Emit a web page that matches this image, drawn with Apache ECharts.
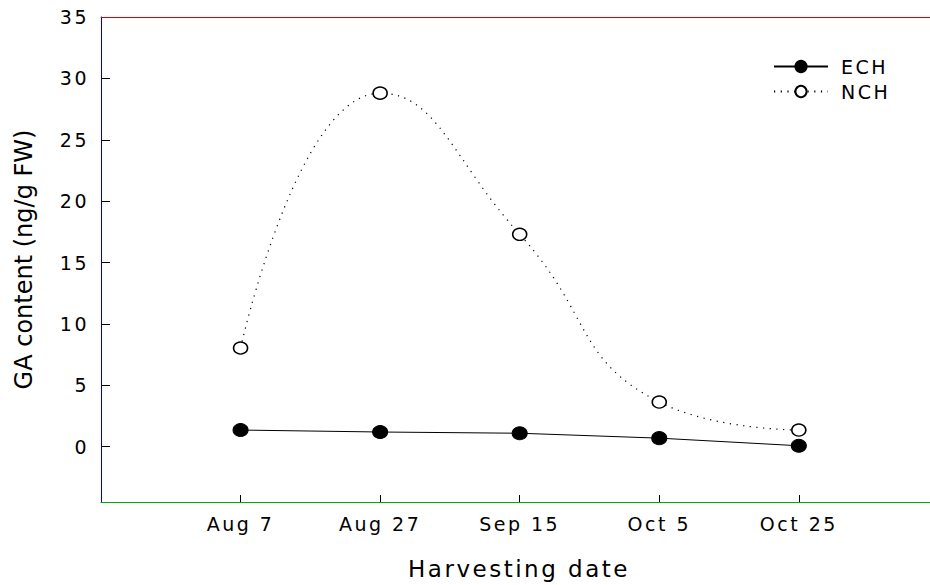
<!DOCTYPE html>
<html>
<head>
<meta charset="utf-8">
<script src="https://cdn.jsdelivr.net/npm/echarts@6/dist/echarts.min.js"></script>
<style>
  html, body { margin: 0; padding: 0; background: #fff; overflow: hidden; }
  #chart { width: 930px; height: 585px; overflow: hidden; }
  #chart svg { display: block; }
</style>
</head>
<body>
<div id="chart"></div>
<script>
// Harvest dates and GA content (ng/g FW) for the two treatments
const dates = ['Aug 7', 'Aug 27', 'Sep 15', 'Oct 5', 'Oct 25'];
const ech = [1.36, 1.2, 1.1, 0.7, 0.08];
const nch = [8.04, 28.8, 17.3, 3.64, 1.36];
const yTicks = [0, 5, 10, 15, 20, 25, 30, 35];
const yTitle = 'GA content (ng/g FW)';
const xTitle = 'Harvesting date';

const FONT = 'DejaVu Sans';
const chart = echarts.init(document.getElementById('chart'), null, { renderer: 'svg' });

const toPoints = arr => arr.map((v, i) => [i + 1, v]);
const datePositions = dates.map((d, i) => i + 1);
const xMax = 5.94;

chart.setOption({
  animation: false,
  backgroundColor: '#fff',
  textStyle: { fontFamily: FONT, color: '#000' },
  grid: {
    left: 101, top: 17, right: 0, bottom: 83,
    outerBoundsMode: 'none', containLabel: false, show: false
  },
  legend: {
    left: 773, top: 57, orient: 'vertical', padding: 0,
    itemWidth: 54, itemHeight: 14, itemGap: 6,
    textStyle: { fontFamily: FONT, fontSize: 19, color: '#000', lineHeight: 19, padding: [0, 0, 0, 8] },
    data: ['ECH', 'NCH']
  },
  xAxis: [
    {
      type: 'value', min: 0, max: xMax, position: 'bottom',
      name: xTitle, nameLocation: 'middle', nameGap: 55,
      nameTextStyle: { fontFamily: FONT, fontSize: 23, color: '#000', padding: [0, 0, 0, 7] },
      axisLine: { onZero: false, lineStyle: { color: '#0a0', width: 1 } },
      axisTick: { inside: true, length: 7, customValues: datePositions, lineStyle: { color: '#000' } },
      axisLabel: {
        customValues: datePositions, margin: 12,
        fontFamily: FONT, fontSize: 19, color: '#000',
        formatter: v => dates[Math.round(v) - 1] || ''
      },
      splitLine: { show: false }
    },
    {
      type: 'value', min: 0, max: xMax, position: 'top',
      axisLine: { show: true, onZero: false, lineStyle: { color: '#d00', width: 1 } },
      axisTick: { show: false }, axisLabel: { show: false }, splitLine: { show: false }
    }
  ],
  yAxis: {
    type: 'value', min: -4.5, max: 35,
    name: yTitle, nameLocation: 'middle', nameGap: 65,
    nameTextStyle: { fontFamily: FONT, fontSize: 24, color: '#000' },
    axisLine: { show: true, onZero: false, lineStyle: { color: '#00d', width: 1 } },
    axisTick: { show: true, inside: true, length: 9, customValues: [0, 5, 10, 15, 20, 25, 30], lineStyle: { color: '#000' } },
    axisLabel: { customValues: yTicks, margin: 12, fontFamily: FONT, fontSize: 19, color: '#000' },
    splitLine: { show: false }
  },
  series: [
    {
      name: 'ECH', type: 'line', data: toPoints(ech),
      symbol: 'circle', symbolSize: [15, 13],
      itemStyle: { color: '#000', borderColor: '#000', borderWidth: 1 },
      lineStyle: { color: '#000', width: 1 },
      z: 3
    },
    {
      name: 'NCH', type: 'line', data: toPoints(nch), smooth: true,
      symbol: 'circle', symbolSize: [14, 12],
      itemStyle: { color: '#fff', borderColor: '#000', borderWidth: 1.5 },
      lineStyle: { color: '#000', width: 1.2, type: [1.2, 5.5] },
      z: 2
    }
  ]
});

function spaceLetters() {
  document.querySelectorAll('#chart svg text').forEach(t => {
    t.style.letterSpacing = (t.textContent === yTitle) ? '0px' : '2.5px';
  });
}
spaceLetters();
chart.on('finished', spaceLetters);
setTimeout(spaceLetters, 50);
</script>
</body>
</html>
